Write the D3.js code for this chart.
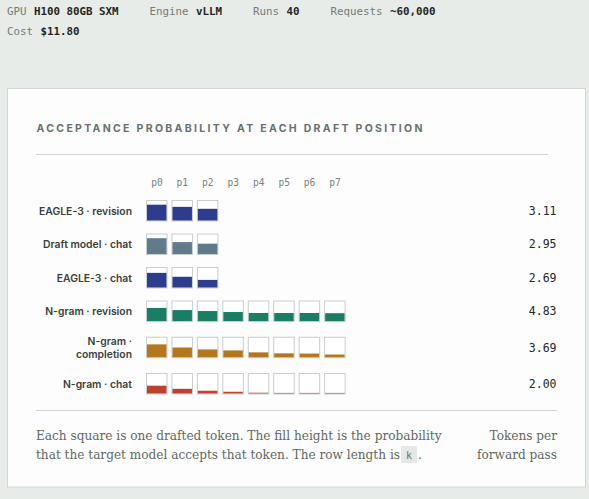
<!DOCTYPE html>
<html>
<head>
<meta charset="utf-8">
<script src="https://cdn.jsdelivr.net/npm/d3@7"></script>
<style>
    body { margin: 0; background: #e8ece9; }
    svg { display: block; }
</style>
</head>
<body>
<svg id="chart"></svg>
<script>
// run metadata shown above the card
var metaLabels = ['GPU', 'Engine', 'Runs', 'Requests', 'Cost'];
var metaValues = ['H100 80GB SXM', 'vLLM', '40', '~60,000', '$11.80'];

// draft positions (columns)
var positions = ['p0', 'p1', 'p2', 'p3', 'p4', 'p5', 'p6', 'p7'];

// method rows
var methods = [
    'EAGLE-3 · revision',
    'Draft model · chat',
    'EAGLE-3 · chat',
    'N-gram · revision',
    'N-gram · completion',
    'N-gram · chat'
];

// acceptance probability per drafted position, one list per method
var eagleRevision = [0.81, 0.70, 0.60];
var draftChat = [0.81, 0.61, 0.53];
var eagleChat = [0.75, 0.55, 0.39];
var ngramRevision = [0.67, 0.56, 0.51, 0.46, 0.41, 0.41, 0.41, 0.40];
var ngramCompletion = [0.66, 0.50, 0.40, 0.35, 0.25, 0.20, 0.19, 0.14];
var ngramChat = [0.40, 0.24, 0.14, 0.09, 0.04, 0.03, 0.03, 0.03];

var acceptance = [eagleRevision, draftChat, eagleChat, ngramRevision, ngramCompletion, ngramChat];

// tokens per forward pass
var tokensPerPass = [3.11, 2.95, 2.69, 4.83, 3.69, 2.00];

var titleText = 'ACCEPTANCE PROBABILITY AT EACH DRAFT POSITION';
var footLine1 = 'Each square is one drafted token. The fill height is the probability';
var footLine2 = 'that the target model accepts that token. The row length is ';
var footCode = 'k';
var footRight = ['Tokens per', 'forward pass'];

var W = 589, H = 499;
var MONO = '"DejaVu Sans Mono", monospace';
var SANS = 'Inter, "Noto Sans", sans-serif';
var SERIF = '"DejaVu Serif", serif';

var svg = d3.select('#chart')
    .attr('width', W)
    .attr('height', H);

svg.append('rect')
    .attr('width', W)
    .attr('height', H)
    .attr('fill', '#e8ece9');

// scale a text node's font size so it spans the given width
function fitWidth(sel, target) {
    var w = sel.node().getComputedTextLength();
    var fs = parseFloat(sel.attr('font-size'));
    var nfs = fs * target / w;
    sel.attr('font-size', nfs);
    return nfs;
}

// ---- header metadata, flowed like inline items ----
var header = svg.append('g');
var hx = 7, hy = 14.5;
metaLabels.forEach(function (lab, i) {
    if (i === 4) { hx = 7; hy = 34.5; }
    var t = header.append('text')
        .attr('x', hx)
        .attr('y', hy)
        .attr('font-family', MONO)
        .attr('font-size', 10.8);
    t.append('tspan')
        .attr('fill', '#737b77')
        .text(lab);
    t.append('tspan')
        .attr('dx', 7.5)
        .attr('fill', '#1f2522')
        .attr('font-weight', 600)
        .text(metaValues[i]);
    hx += t.node().getComputedTextLength() + 7.5 + 31;
});

// ---- card ----
svg.append('rect')
    .attr('x', 7.5)
    .attr('y', 88.5)
    .attr('width', 578)
    .attr('height', 398.5)
    .attr('fill', '#fdfdfd')
    .attr('stroke', '#d2d8d5');

svg.append('text')
    .attr('x', 36.5)
    .attr('y', 132)
    .attr('font-family', SANS)
    .attr('font-weight', 700)
    .attr('font-size', 10.5)
    .attr('fill', '#67716c')
    .attr('textLength', 386)
    .attr('lengthAdjust', 'spacing')
    .text(titleText);

svg.append('line')
    .attr('x1', 36).attr('x2', 548)
    .attr('y1', 154.5).attr('y2', 154.5)
    .attr('stroke', '#cfd5d2');

// ---- grid ----
var SQ = 21.5;
var x = d3.scaleBand()
    .domain(positions)
    .range([146, 146 + 25 * positions.length])
    .paddingInner(3.5 / 25)
    .paddingOuter(0)
    .align(0);

var fillH = d3.scaleLinear()
    .domain([0, 1])
    .range([0, SQ - 2]);

var color = d3.scaleOrdinal()
    .domain(methods)
    .range(['#2e3c8e', '#607b8b', '#2e3c8e', '#1a7d66', '#b3771f', '#bf402f']);

svg.append('g')
    .selectAll('text')
    .data(positions)
    .enter()
    .append('text')
    .attr('x', function (d) { return x(d) + x.bandwidth() / 2; })
    .attr('y', 186)
    .attr('text-anchor', 'middle')
    .attr('font-family', MONO)
    .attr('font-size', 9.6)
    .attr('fill', '#7a827e')
    .text(function (d) { return d; });

// label font size fitted on the first label
var probe = svg.append('text')
    .attr('font-family', SANS)
    .attr('font-weight', 600)
    .attr('font-size', 11)
    .text(methods[0]);
var labelFs = fitWidth(probe, 93);
probe.remove();

// wrap labels into lines, then lay rows out
var LINE = 13.5, GAP = 12, LABEL_MAX = 100;
var rows = [];
var yCursor = 200;
methods.forEach(function (m, i) {
    var t = svg.append('text')
        .attr('font-family', SANS)
        .attr('font-weight', 600)
        .attr('font-size', labelFs)
        .text(m);
    var lines = [m];
    if (t.node().getComputedTextLength() > LABEL_MAX) {
        var words = m.split(' ');
        lines = [words.slice(0, 2).join(' '), words.slice(2).join(' ')];
    }
    t.remove();
    var rh = Math.max(SQ, lines.length * LINE);
    rows.push({
        name: m,
        lines: lines,
        top: yCursor,
        h: rh,
        mid: yCursor + rh / 2,
        probs: acceptance[i],
        tokens: tokensPerPass[i]
    });
    yCursor += rh + GAP;
});

var row = svg.append('g')
    .selectAll('g')
    .data(rows)
    .enter()
    .append('g');

row.append('text')
    .attr('text-anchor', 'end')
    .attr('font-family', SANS)
    .attr('font-weight', 600)
    .attr('font-size', labelFs)
    .attr('fill', '#3a3f3d')
    .each(function (d) {
        var t = d3.select(this);
        var y0 = d.mid - (d.lines.length - 1) * LINE / 2 + 4;
        d.lines.forEach(function (ln, k) {
            t.append('tspan')
                .attr('x', 132)
                .attr('y', y0 + k * LINE)
                .text(ln);
        });
    });

var cell = row.selectAll('g.cell')
    .data(function (d) {
        return d.probs.map(function (p, k) {
            return { p: p, pos: positions[k], name: d.name, top: d.mid - SQ / 2 };
        });
    })
    .enter()
    .append('g')
    .attr('class', 'cell');

cell.append('rect')
    .attr('x', function (d) { return x(d.pos) + 0.5; })
    .attr('y', function (d) { return d.top + 0.5; })
    .attr('width', SQ - 1)
    .attr('height', SQ - 1)
    .attr('fill', '#ffffff')
    .attr('stroke', '#c7cfcb')
    .attr('stroke-width', 1);

cell.append('rect')
    .attr('x', function (d) { return x(d.pos) + 1; })
    .attr('y', function (d) { return d.top + SQ - 1 - fillH(d.p); })
    .attr('width', SQ - 2)
    .attr('height', function (d) { return fillH(d.p); })
    .attr('fill', function (d) { return color(d.name); });

row.append('text')
    .attr('x', 556.5)
    .attr('y', function (d) { return d.mid + 4; })
    .attr('text-anchor', 'end')
    .attr('font-family', MONO)
    .attr('font-size', 11.5)
    .attr('font-weight', 500)
    .attr('fill', '#222725')
    .text(function (d) { return d3.format('.2f')(d.tokens); });

// ---- footer ----
svg.append('line')
    .attr('x1', 36).attr('x2', 557)
    .attr('y1', 410.5).attr('y2', 410.5)
    .attr('stroke', '#cfd5d2');

var f1 = svg.append('text')
    .attr('x', 36)
    .attr('y', 440)
    .attr('font-family', SERIF)
    .attr('font-size', 11)
    .attr('fill', '#5f6863')
    .text(footLine1);
var footFs = fitWidth(f1, 406);

var f2 = svg.append('text')
    .attr('x', 36)
    .attr('y', 459)
    .attr('font-family', SERIF)
    .attr('font-size', footFs)
    .attr('fill', '#5f6863')
    .text(footLine2);
var codeX = 36 + f2.node().getComputedTextLength() + 1;

var codeBg = svg.append('rect')
    .attr('x', codeX)
    .attr('y', 446)
    .attr('height', 17)
    .attr('rx', 1.5)
    .attr('fill', '#e4e8e6');

var codeT = svg.append('text')
    .attr('x', codeX + 5)
    .attr('y', 458.5)
    .attr('font-family', MONO)
    .attr('font-size', 10)
    .attr('fill', '#6a726e')
    .text(footCode);
var codeW = codeT.node().getComputedTextLength() + 10;
codeBg.attr('width', codeW);

svg.append('text')
    .attr('x', codeX + codeW + 1)
    .attr('y', 459)
    .attr('font-family', SERIF)
    .attr('font-size', footFs)
    .attr('fill', '#5f6863')
    .text('.');

svg.append('text')
    .attr('text-anchor', 'end')
    .attr('font-family', SERIF)
    .attr('font-size', footFs)
    .attr('fill', '#5f6863')
    .selectAll('tspan')
    .data(footRight)
    .enter()
    .append('tspan')
    .attr('x', 557)
    .attr('y', function (d, i) { return 440 + i * 19; })
    .text(function (d) { return d; });
</script>
</body>
</html>
